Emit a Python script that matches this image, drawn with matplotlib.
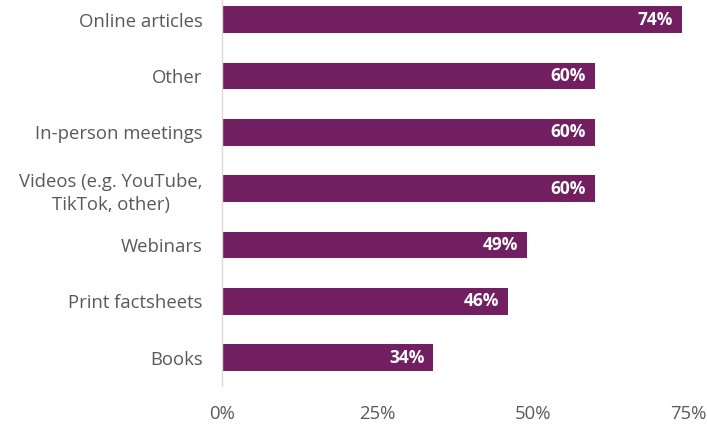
import matplotlib.pyplot as plt
from matplotlib.ticker import PercentFormatter

plt.rcParams['font.family'] = ['Open Sans', 'DejaVu Sans']

# Sources of information, top to bottom
sources = ['Online articles', 'Other', 'In-person meetings',
           'Videos (e.g. YouTube,\nTikTok, other)', 'Webinars',
           'Print factsheets', 'Books']
shares = [74, 60, 60, 60, 49, 46, 34]
xticks = [0, 25, 50, 75]

bar_color = '#711F60'
text_grey = '#595959'

fig = plt.figure(figsize=(7.07, 4.24), dpi=100)
ax = fig.add_axes([0.314, 0.09, 0.68, 0.93])

ypos = list(range(len(sources)))
ax.barh(ypos, shares, height=0.47, color=bar_color)
ax.set_ylim(len(sources) - 0.5, -0.5)
ax.set_xlim(0, 77.3)

for y, v in zip(ypos, shares):
    ax.annotate(f'{v}%', xy=(v, y), xytext=(-6.5, 0), textcoords='offset points',
                ha='right', va='center', color='white', fontsize=12.5,
                fontweight='bold')

ax.set_yticks(ypos)
ax.set_yticklabels(sources, fontsize=13.3, color=text_grey)
for lab in ax.get_yticklabels():
    lab.set_multialignment('center')
    lab.set_linespacing(1.35)
ax.set_xticks(xticks)
ax.xaxis.set_major_formatter(PercentFormatter(decimals=0))
ax.tick_params(axis='x', length=0, pad=14, labelsize=13.3, labelcolor=text_grey)
ax.tick_params(axis='y', length=0, pad=14)

for side in ['top', 'right', 'bottom']:
    ax.spines[side].set_visible(False)
ax.spines['left'].set_color('#D9D9D9')
ax.spines['left'].set_linewidth(1)

fig.savefig('out.png', dpi=100)
